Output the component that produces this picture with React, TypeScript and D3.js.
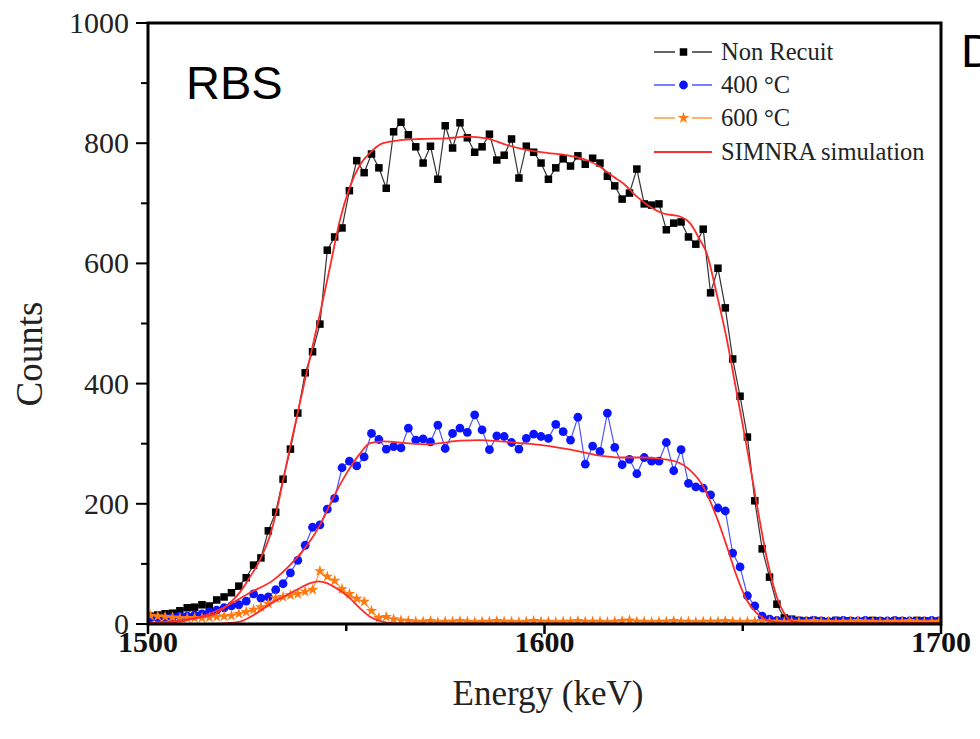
import React from 'react';
import * as d3 from 'd3';

// Channel calibration of the spectrum (keV)
const E0 = 1500.6;
const DE = 1.859;

// Measured counts per channel
const nonRecuit = [
  13, 15, 17, 18, 22, 27, 28, 32, 30, 40,
  45, 52, 63, 77, 98, 110, 155, 186, 241, 291,
  351, 418, 453, 499, 622, 644, 659, 721, 771, 751,
  782, 759, 725, 819, 835, 814, 794, 767, 795, 740,
  829, 792, 834, 809, 785, 794, 815, 772, 780, 807,
  742, 795, 785, 767, 740, 759, 774, 762, 779, 765,
  775, 767, 745, 729, 707, 717, 757, 699, 697, 699,
  656, 667, 669, 644, 632, 657, 551, 592, 526, 441,
  379, 311, 205, 125, 78, 33, 10, 8,
  6, 5, 6, 5, 4, 6, 5, 5, 4, 5, 6, 5, 4, 5, 5, 4, 6, 5, 4, 5,
];
const anneal400 = [
  10, 10, 11, 12, 13, 13, 15, 17, 20, 23,
  27, 30, 32, 38, 50, 43, 45, 57, 67, 85,
  106, 131, 161, 165, 191, 209, 260, 271, 263, 278,
  317, 307, 291, 295, 293, 326, 306, 308, 303, 331,
  292, 317, 326, 319, 348, 323, 290, 313, 312, 302,
  291, 309, 316, 312, 309, 332, 320, 306, 344, 266,
  296, 287, 351, 294, 265, 274, 250, 277, 271, 271,
  302, 255, 290, 234, 228, 226, 215, 193, 188, 118,
  95, 47, 30, 13, 8,
  6, 5, 6, 5, 5, 6, 5, 4, 5, 6, 5, 5, 6, 4, 5, 5, 6, 5, 5, 4, 5, 6, 5,
];
const anneal600 = [
  14, 13, 12, 11, 10, 10, 10, 10, 11, 12,
  13, 14, 17, 20, 24, 28, 34, 43, 45, 48,
  50, 54, 57, 88, 79, 72, 58, 50, 42, 37,
  22, 10, 12, 8, 6,
  5, 4, 4, 5, 3, 4, 4, 5, 4, 3,
  4, 4, 5, 4, 4, 3, 4, 5, 4, 4,
  3, 4, 4, 5, 4, 4, 4, 3, 4, 5,
  6, 4, 4, 3, 4, 4, 5, 4, 4, 3,
  4, 4, 4, 5, 4, 3, 4, 4, 5, 4,
  4, 3, 4, 4, 4, 5, 4, 4, 3, 4,
  4, 5, 4, 4, 3, 4, 4, 4, 5, 4,
  3, 4, 4,
];

// SIMNRA simulations (energy keV, counts)
const simNonRecuitE = [1500, 1508.1, 1513.1, 1517.3, 1520.7, 1523.2, 1525.7, 1528.2, 1530.8, 1532.5, 1534.1, 1535.8, 1540.0, 1543.4, 1545.9, 1548.4, 1550.9, 1553.5, 1556.0, 1559.3, 1563.6, 1568.6, 1575.3, 1580.4, 1585.4, 1590.5, 1595.5, 1600.6, 1605.6, 1610.6, 1614.0, 1617.4, 1619.9, 1623.3, 1626.7, 1630.0, 1634.2, 1636.7, 1639.2, 1640.9, 1643.4, 1646.0, 1648.5, 1651.0, 1653.5, 1656.0, 1658.6, 1661.1, 1662.7, 1667.0, 1700];
const simNonRecuitC = [2, 6, 11, 18, 35, 53, 78, 106, 148, 190, 240, 293, 418, 517, 594, 672, 727, 764, 784, 800, 805, 807, 808, 811, 808, 797, 789, 784, 780, 772, 761, 744, 733, 711, 694, 683, 678, 667, 639, 617, 550, 473, 384, 295, 201, 112, 45, 12, 4, 2, 2];

const sim400E = [1500, 1508.1, 1512.3, 1519.0, 1525.7, 1531.6, 1535.8, 1540.0, 1543.4, 1546.7, 1550.1, 1553.5, 1556.0, 1559.3, 1565.2, 1570.3, 1573.6, 1578.7, 1583.7, 1588.8, 1593.8, 1598.9, 1603.9, 1609.0, 1614.0, 1619.0, 1624.1, 1629.1, 1633.3, 1636.7, 1640.1, 1643.4, 1646.0, 1648.5, 1651.0, 1653.5, 1656.9, 1660.2, 1700];
const sim400C = [1, 4, 10, 27, 52, 73, 98, 130, 165, 210, 251, 284, 301, 304, 301, 299, 301, 305, 306, 304, 301, 298, 293, 287, 280, 277, 277, 275, 270, 256, 228, 178, 129, 79, 40, 18, 5, 2, 1];

const sim600E = [1500, 1515.6, 1519.0, 1523.2, 1527.4, 1531.5, 1534.1, 1537.5, 1540.9, 1543.0, 1545.1, 1547.6, 1550.9, 1553.5, 1556.0, 1558.5, 1562.7, 1700];
const sim600C = [0, 0, 1, 4, 18, 36, 45, 57, 68, 71, 68, 59, 43, 26, 12, 5, 1, 0];

const xMajor = [1500, 1600, 1700];
const xMinor = [1550, 1650];
const yMajor = [0, 200, 400, 600, 800, 1000];
const yMinor = [100, 300, 500, 700, 900];

const legendItems = [
  { label: 'Non Recuit', color: '#000000', line: '#333333', marker: 'square' },
  { label: '400 °C', color: '#0a14ff', line: '#4a55ff', marker: 'circle' },
  { label: '600 °C', color: '#ff7a10', line: '#ff9a40', marker: 'star' },
  { label: 'SIMNRA simulation', color: '#ff2a2a', line: '#ff2a2a', marker: 'none' },
];

const SERIF = '"Liberation Serif", "Times New Roman", serif';
const SANS = '"Liberation Sans", Arial, sans-serif';

export default function App() {
  const W = 980, H = 739;
  const x = d3.scaleLinear().domain([1500, 1700]).range([148, 941]);
  const y = d3.scaleLinear().domain([0, 1000]).range([624, 23]);

  const toPts = (arr: number[]) => arr.map((c, i) => [E0 + DE * i, c] as [number, number]);
  const dataLine = d3.line<[number, number]>().x(d => x(d[0])).y(d => y(d[1]));
  const simLine = d3.line<[number, number]>().x(d => x(d[0])).y(d => y(d[1])).curve(d3.curveMonotoneX);

  const black = toPts(nonRecuit);
  const blue = toPts(anneal400);
  const orange = toPts(anneal600);
  const zip = (a: number[], b: number[]) => a.map((e, i) => [e, b[i]] as [number, number]);

  const star = d3.symbol().type(d3.symbolStar).size(42)();

  const renderMarker = (kind: string, cx: number, cy: number, color: string, key: any) => {
    if (kind === 'square') {
      const s = 7.5;
      return <rect key={key} x={cx - s / 2} y={cy - s / 2} width={s} height={s} fill={color} />;
    }
    if (kind === 'circle') return <circle key={key} cx={cx} cy={cy} r={4.4} fill={color} />;
    if (kind === 'star') return <path key={key} d={star!} transform={`translate(${cx},${cy})`} fill={color} />;
    return null;
  };

  return (
    <svg width={W} height={H} style={{ position: 'absolute', left: 0, top: 0, background: '#fff' }}>
      <rect x={0} y={0} width={W} height={H} fill="#fff" />
      <defs>
        <clipPath id="plotClip">
          <rect x={148} y={23} width={793} height={601} />
        </clipPath>
      </defs>

      <g clipPath="url(#plotClip)">
        {/* Non Recuit */}
        <path d={dataLine(black)!} fill="none" stroke="#333" strokeWidth={1.2} />
        {black.map((d, i) => renderMarker('square', x(d[0]), y(d[1]), '#000', 'b' + i))}
        {/* 400 C */}
        <path d={dataLine(blue)!} fill="none" stroke="#4a55ff" strokeWidth={1.2} />
        {blue.map((d, i) => renderMarker('circle', x(d[0]), y(d[1]), '#0a14ff', 'u' + i))}
        {/* 600 C */}
        <path d={dataLine(orange)!} fill="none" stroke="#ff9a40" strokeWidth={1.2} />
        {orange.map((d, i) => renderMarker('star', x(d[0]), y(d[1]), '#ff7a10', 'o' + i))}
        {/* SIMNRA */}
        <path d={simLine(zip(simNonRecuitE, simNonRecuitC))!} fill="none" stroke="#ff2a2a" strokeWidth={1.8} />
        <path d={simLine(zip(sim400E, sim400C))!} fill="none" stroke="#ff2a2a" strokeWidth={1.8} />
        <path d={simLine(zip(sim600E, sim600C))!} fill="none" stroke="#ff2a2a" strokeWidth={1.8} />
      </g>

      {/* frame */}
      <rect x={148} y={23} width={793} height={601} fill="none" stroke="#000" strokeWidth={3} />

      {/* x ticks */}
      {xMajor.map(t => (
        <g key={'xm' + t}>
          <line x1={x(t)} x2={x(t)} y1={624} y2={634} stroke="#000" strokeWidth={2.5} />
          <text x={x(t)} y={652} textAnchor="middle" fontFamily={SERIF} fontSize={30} fontWeight="bold" fill="#111">{t}</text>
        </g>
      ))}
      {xMinor.map(t => (
        <line key={'xn' + t} x1={x(t)} x2={x(t)} y1={624} y2={631} stroke="#000" strokeWidth={2.5} />
      ))}

      {/* y ticks */}
      {yMajor.map(t => (
        <g key={'ym' + t}>
          <line x1={136} x2={148} y1={y(t)} y2={y(t)} stroke="#000" strokeWidth={2} />
          <text x={129} y={y(t) + 10} textAnchor="end" fontFamily={SERIF} fontSize={30} fill="#222">{t}</text>
        </g>
      ))}
      {yMinor.map(t => (
        <line key={'yn' + t} x1={141} x2={148} y1={y(t)} y2={y(t)} stroke="#000" strokeWidth={2} />
      ))}

      {/* axis titles */}
      <text x={548} y={705} textAnchor="middle" fontFamily={SERIF} fontSize={35} fill="#222">Energy (keV)</text>
      <text transform="translate(42,354) rotate(-90)" textAnchor="middle" fontFamily={SERIF} fontSize={37} fill="#222">Counts</text>

      {/* annotations */}
      <text x={186} y={99} fontFamily={SANS} fontSize={47} fill="#000">RBS</text>
      <text x={961} y={67} fontFamily={SANS} fontSize={47} fill="#000">D</text>

      {/* legend */}
      {legendItems.map((it, i) => {
        const cy = [52, 85, 118, 152][i];
        return (
          <g key={'lg' + i}>
            {it.marker === 'none' ? (
              <line x1={654} x2={712} y1={cy} y2={cy} stroke={it.line} strokeWidth={1.8} />
            ) : (
              <>
                <line x1={654} x2={675} y1={cy} y2={cy} stroke={it.line} strokeWidth={1.5} />
                <line x1={692} x2={712} y1={cy} y2={cy} stroke={it.line} strokeWidth={1.5} />
                {renderMarker(it.marker, 683.5, cy, it.color, 'lm' + i)}
              </>
            )}
            <text x={721} y={cy + 8} fontFamily={SERIF} fontSize={24.5} fill="#222">{it.label}</text>
          </g>
        );
      })}
    </svg>
  );
}
